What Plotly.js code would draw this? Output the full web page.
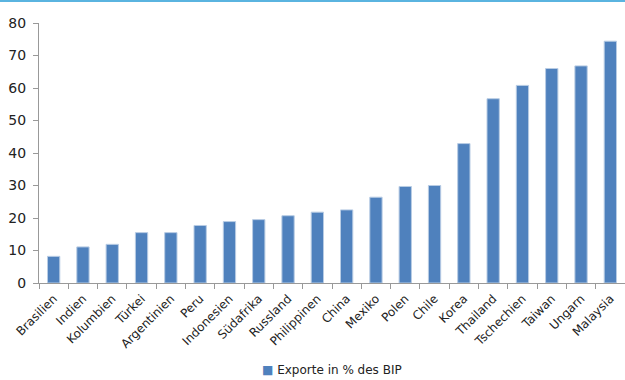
<!DOCTYPE html>
<html>
<head>
<meta charset="utf-8">
<script src="https://cdn.plot.ly/plotly-3.0.1.min.js"></script>
<style>
html,body{margin:0;padding:0;background:#fff;}
#wrap{position:relative;width:625px;height:380px;overflow:hidden;}
#topline{position:absolute;left:0;top:0;width:625px;height:2px;background:#5ab4e0;z-index:5;}
#chart{width:625px;height:380px;}
</style>
</head>
<body>
<div id="wrap"><div id="topline"></div><div id="chart"></div></div>
<script>
var countries = ["Brasilien","Indien","Kolumbien","Türkei","Argentinien","Peru","Indonesien","Südafrika","Russland","Philippinen","China","Mexiko","Polen","Chile","Korea","Thailand","Tschechien","Taiwan","Ungarn","Malaysia"];
var exportsPct = [8.2,11.1,11.9,15.5,15.5,17.7,18.9,19.5,20.7,21.8,22.5,26.4,29.7,30.0,42.9,56.7,60.8,66.0,66.8,74.4];
var seriesName = "Exporte in % des BIP";
var yTicks = [0,10,20,30,40,50,60,70,80];

var fontFam = "'DejaVu Sans', sans-serif";
var barColor = "#4f81bd";
var trace = {
  type: "bar",
  x: countries,
  y: exportsPct,
  name: seriesName,
  marker: {color: barColor, line: {color: "#b8cce4", width: 1}},
  showlegend: false
};
var layout = {
  width: 625, height: 380,
  margin: {l: 39, r: 0, t: 23, b: 97, pad: 0},
  paper_bgcolor: "#fff", plot_bgcolor: "#fff",
  bargap: 0.58,
  font: {family: fontFam, color: "#222"},
  xaxis: {
    type: "category", automargin: false,
    showline: true, linecolor: "#999", linewidth: 1,
    ticks: "outside", ticklen: 5, tickcolor: "#999", tickson: "boundaries",
    tickangle: -45,
    ticklabelstandoff: 3,
    tickfont: {size: 12, family: fontFam, color: "#222"},
    showgrid: false, zeroline: false,
    fixedrange: true
  },
  yaxis: {
    range: [0, 80], automargin: false,
    tickvals: yTicks,
    showline: true, linecolor: "#999", linewidth: 1,
    ticks: "outside", ticklen: 5, tickcolor: "#999",
    ticklabelstandoff: 4,
    tickfont: {size: 14, family: fontFam, color: "#222"},
    showgrid: false, zeroline: false,
    fixedrange: true
  },
  showlegend: false,
  annotations: [{
    xref: "paper", yref: "paper", x: 0.5, y: -0.336, xanchor: "center", yanchor: "middle",
    showarrow: false,
    text: "<span style='color:" + barColor + "'>■</span> " + seriesName,
    font: {size: 12, family: fontFam, color: "#222"}
  }]
};
Plotly.newPlot("chart", [trace], layout, {displayModeBar: false, staticPlot: true});
</script>
</body>
</html>
